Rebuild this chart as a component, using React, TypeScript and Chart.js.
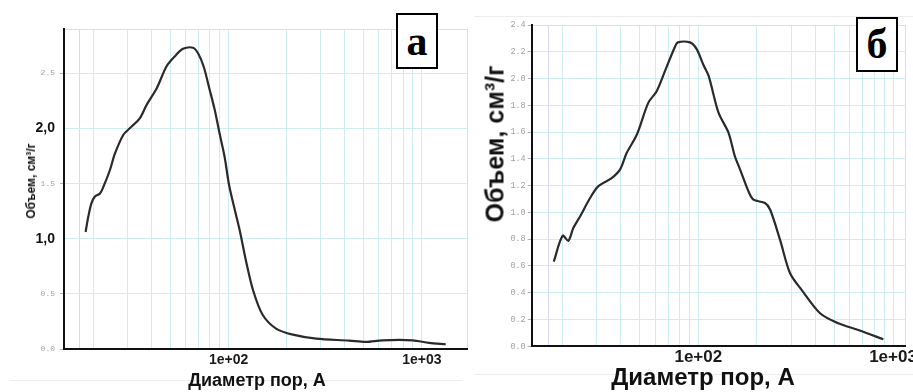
import React, { useEffect, useRef } from 'react';
import { Chart, registerables } from 'chart.js';

Chart.register(...registerables);

// ---------- Panel "а" data ----------
const diameterA = [18.2, 18.8, 19.5, 20.3, 21.6, 22.5, 24.3, 25.8, 28.5, 30.8, 34.7, 37.6, 42.4, 47.7, 52.6, 58.1, 65.5, 69.5, 74.3, 79.8, 84.7, 89.9, 95.4, 101, 114, 123, 134, 150, 176, 215, 284, 421, 513, 626, 896, 1091, 1330];
const volumeA = [1.06, 1.2, 1.32, 1.38, 1.41, 1.47, 1.62, 1.77, 1.94, 2.0, 2.09, 2.21, 2.36, 2.56, 2.65, 2.72, 2.73, 2.68, 2.56, 2.35, 2.17, 1.95, 1.74, 1.47, 1.08, 0.8, 0.53, 0.31, 0.185, 0.13, 0.094, 0.076, 0.064, 0.079, 0.079, 0.055, 0.043];

// ---------- Panel "б" data ----------
const diameterB = [18.1, 20.1, 21.5, 22.8, 24.7, 27.8, 30.6, 35.9, 39.6, 42.9, 48.3, 55.4, 61.1, 67.4, 75.5, 78.5, 90.6, 98.1, 106, 113, 127, 143, 154, 164, 181, 192, 220, 234, 263, 296, 340, 422, 523, 663, 892];
const volumeB = [0.633, 0.826, 0.788, 0.883, 0.97, 1.108, 1.195, 1.257, 1.32, 1.445, 1.58, 1.82, 1.905, 2.055, 2.23, 2.27, 2.27, 2.22, 2.105, 2.02, 1.745, 1.595, 1.42, 1.32, 1.157, 1.095, 1.07, 1.02, 0.795, 0.546, 0.42, 0.247, 0.172, 0.122, 0.052];

// ---------- Axes ----------
const xGridValues = [17, 20, 30, 40, 50, 60, 70, 80, 90, 100, 200, 300, 400, 500, 600, 700, 800, 900, 1000];
const xTickLabels: Record<number, string> = { 100: '1e+02', 1000: '1e+03' };
const xRangeA = [14.07, 1713];
const xRangeB = [13.94, 1162];

const yTicksA = [0, 0.5, 1, 1.5, 2, 2.5];
const yLabelsA = ['0.0', '0.5', '1,0', '1.5', '2,0', '2.5'];
const yBoldA = [1, 2];
const yMaxA = 2.9;

const yTicksB = [0, 0.2, 0.4, 0.6, 0.8, 1.0, 1.2, 1.4, 1.6, 1.8, 2.0, 2.2, 2.4];
const yLabelsB = ['0.0', '0.2', '0.4', '0.6', '0.8', '1.0', '1.2', '1.4', '1.6', '1.8', '2.0', '2.2', '2.4'];
const yBoldB: number[] = [];
const yMaxB = 2.4;

const xTitle = 'Диаметр пор, А';
const yTitle = 'Объем, см³/г';

const SANS = '"Liberation Sans", Arial, sans-serif';
const MONO = '"Liberation Mono", "DejaVu Sans Mono", monospace';
const SERIF = '"Liberation Serif", "Times New Roman", serif';

type PanelCfg = {
  diameters: number[];
  volumes: number[];
  xRange: number[];
  yTicks: number[];
  yLabels: string[];
  yBold: number[];
  yMax: number;
  yAxisWidth: number;
  xAxisHeight: number;
  padTop: number;
  padRight: number;
  smallFont: number;
  boldFont: number;
  xFont: number;
  xPad: number;
  yPad: number;
};

function gridColor(v: number | undefined, max: number) {
  if (v === undefined) return 'rgba(0,0,0,0)';
  if (Math.abs(v - max) < 1e-9) return '#dedede';
  if (v === 17) return '#d8d8f2';
  return '#cdedf3';
}

function makeConfig(p: PanelCfg): any {
  const points = p.diameters.map((d, i) => ({ x: d, y: p.volumes[i] }));
  const [xMin, xMax] = p.xRange;
  const xTickValues = [...xGridValues.filter((v) => v > xMin && v < xMax), xMax];
  const yTickValues = p.yTicks.includes(p.yMax) ? p.yTicks : [...p.yTicks, p.yMax];
  return {
    type: 'line',
    data: {
      datasets: [
        {
          data: points,
          borderColor: '#2a2a2a',
          borderWidth: 2.2,
          pointRadius: 0,
          tension: 0.3,
          fill: false,
        },
      ],
    },
    options: {
      responsive: false,
      maintainAspectRatio: false,
      animation: false,
      layout: { padding: { top: p.padTop, right: p.padRight, left: 0, bottom: 0 } },
      plugins: { legend: { display: false }, tooltip: { enabled: false } },
      scales: {
        x: {
          type: 'logarithmic',
          bounds: 'data',
          min: xMin,
          max: xMax,
          afterBuildTicks: (s: any) => {
            s.ticks = xTickValues.map((v) => ({ value: v }));
          },
          afterFit: (s: any) => {
            s.height = p.xAxisHeight;
          },
          ticks: {
            autoSkip: false,
            maxRotation: 0,
            minRotation: 0,
            padding: p.xPad,
            color: '#1a1a1a',
            font: { family: SANS, size: p.xFont, weight: 'bold' },
            callback: (v: number) => xTickLabels[v] ?? '',
          },
          grid: {
            drawTicks: false,
            lineWidth: 1,
            color: (c: any) => gridColor(c.tick?.value, xMax),
          },
          border: { display: true, color: '#111', width: 2 },
        },
        y: {
          type: 'linear',
          bounds: 'data',
          min: 0,
          max: p.yMax,
          afterBuildTicks: (s: any) => {
            s.ticks = yTickValues.map((v) => ({ value: v }));
          },
          afterFit: (s: any) => {
            s.width = p.yAxisWidth;
          },
          ticks: {
            autoSkip: false,
            padding: p.yPad,
            callback: (_v: number, i: number) => p.yLabels[i] ?? '',
            color: (c: any) => (p.yBold.includes(c.tick?.value) ? '#111' : '#a0a0a0'),
            font: (c: any) =>
              p.yBold.includes(c.tick?.value)
                ? { family: SANS, size: p.boldFont, weight: 'bold' }
                : { family: MONO, size: p.smallFont, weight: 'normal' },
          },
          grid: {
            drawTicks: true,
            tickLength: 4,
            lineWidth: 1,
            tickColor: (c: any) =>
              p.yBold.includes(c.tick?.value) || (c.tick?.value === p.yMax && !p.yTicks.includes(p.yMax))
                ? 'rgba(0,0,0,0)'
                : '#b0b0b0',
            color: (c: any) => gridColor(c.tick?.value, p.yMax),
          },
          border: { display: true, color: '#111', width: 2 },
        },
      },
    },
  };
}

const panelA: PanelCfg = {
  diameters: diameterA,
  volumes: volumeA,
  xRange: xRangeA,
  yTicks: yTicksA,
  yLabels: yLabelsA,
  yBold: yBoldA,
  yMax: yMaxA,
  yAxisWidth: 64,
  xAxisHeight: 43,
  padTop: 29,
  padRight: 2,
  smallFont: 8,
  boldFont: 14,
  xFont: 14,
  xPad: 3,
  yPad: 5,
};

const panelB: PanelCfg = {
  diameters: diameterB,
  volumes: volumeB,
  xRange: xRangeB,
  yTicks: yTicksB,
  yLabels: yLabelsB,
  yBold: yBoldB,
  yMax: yMaxB,
  yAxisWidth: 61.7,
  xAxisHeight: 45.7,
  padTop: 25,
  padRight: 7.3,
  smallFont: 8.5,
  boldFont: 14,
  xFont: 17,
  xPad: 1,
  yPad: 2,
};

function ChartPanel({ cfg, left, width }: { cfg: PanelCfg; left: number; width: number }) {
  const ref = useRef<HTMLCanvasElement>(null);
  useEffect(() => {
    if (!ref.current) return;
    const chart = new Chart(ref.current, makeConfig(cfg));
    return () => chart.destroy();
  }, [cfg]);
  return (
    <canvas
      ref={ref}
      width={width}
      height={392}
      style={{ position: 'absolute', left, top: 0, width, height: 392 }}
    />
  );
}

function Label({ text, x, y, size, rotate }: { text: string; x: number; y: number; size: number; rotate?: boolean }) {
  return (
    <div
      style={{
        position: 'absolute',
        left: x,
        top: y,
        transform: `translate(-50%, -50%)${rotate ? ' rotate(-90deg)' : ''}`,
        whiteSpace: 'nowrap',
        fontFamily: SANS,
        fontWeight: 'bold',
        fontSize: size,
        lineHeight: 1,
        color: '#111',
      }}
    >
      {text}
    </div>
  );
}

function LetterBox({ letter, x, y, w, h }: { letter: string; x: number; y: number; w: number; h: number }) {
  return (
    <div
      style={{
        position: 'absolute',
        left: x,
        top: y,
        width: w,
        height: h,
        boxSizing: 'border-box',
        border: '2px solid #000',
        background: '#fff',
        display: 'flex',
        alignItems: 'center',
        justifyContent: 'center',
        fontFamily: SERIF,
        fontWeight: 'bold',
        fontSize: 42,
        lineHeight: 1,
        color: '#000',
      }}
    >
      {letter}
    </div>
  );
}

function Line({ x, y, w, h }: { x: number; y: number; w: number; h: number }) {
  return <div style={{ position: 'absolute', left: x, top: y, width: w, height: h, background: '#ececec' }} />;
}

export default function App() {
  return (
    <div
      style={{
        position: 'fixed',
        left: 0,
        top: 0,
        width: 913,
        height: 392,
        background: '#fff',
        overflow: 'hidden',
      }}
    >
      <Line x={10} y={380} w={452} h={1} />
      <Line x={474} y={16} w={439} h={1} />
      <Line x={474} y={374} w={439} h={1} />
      <ChartPanel cfg={panelA} left={0} width={470} />
      <ChartPanel cfg={panelB} left={470} width={443} />
      <Label text={xTitle} x={257} y={379.6} size={18} />
      <Label text={xTitle} x={703} y={377.3} size={24} />
      <Label text={yTitle} x={31} y={181} size={12} rotate />
      <Label text={yTitle} x={495} y={143.5} size={25} rotate />
      <LetterBox letter="а" x={395.7} y={13.3} w={42.6} h={55.7} />
      <LetterBox letter="б" x={855.7} y={17.3} w={42.6} h={54.4} />
    </div>
  );
}
